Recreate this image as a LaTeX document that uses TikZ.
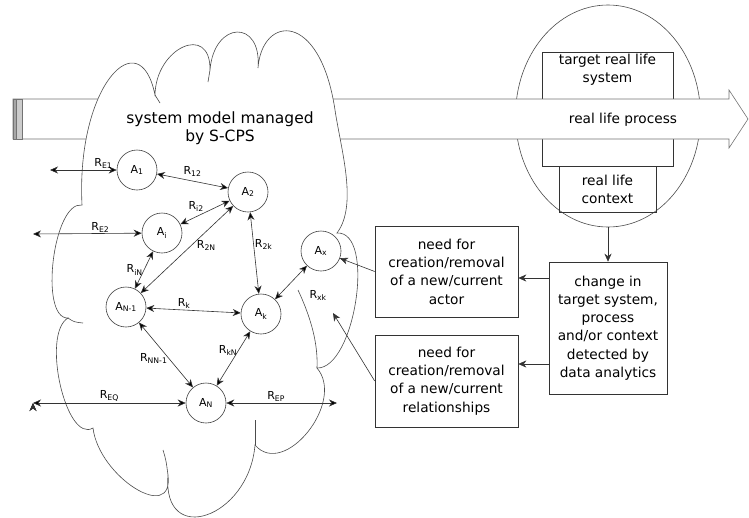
\documentclass[tikz,border=0pt]{standalone}
\usepackage{fontspec}
\setmainfont{DejaVu Sans}
\usetikzlibrary{arrows.meta,positioning,shapes.geometric}

\begin{document}
\begin{tikzpicture}[
    x=1pt, y=-1pt,
    >={Stealth[length=8pt,width=7pt,inset=2.5pt]},
    line width=0.6pt,
    actor/.style={circle, draw=black!75, minimum size=40pt, inner sep=0pt, font=\fontsize{11}{13}\selectfont},
    infobox/.style={draw=black!80, align=center, inner sep=2pt, font=\fontsize{13.7}{18.3}\selectfont},
    rel/.style={<->, draw=black!80},
    rlabel/.style={font=\fontsize{11}{13}\selectfont, inner sep=1pt},
    cloudline/.style={draw=black!70}
]
    \useasboundingbox (0,0) rectangle (749,517);

    % real world: system, process, context
    \node[ellipse, draw=black!70, minimum width=185pt, minimum height=222pt] (world) at (608,116) {};
    \node[draw=black!80, minimum width=131pt, minimum height=114pt] (sysbox) at (607.5,109) {};
    \node[infobox, draw=none, anchor=north] (systxt) at (sysbox.north) {target real life\\system};

    % process arrow
    \draw[draw=black!55, fill=white] (13,99) -- (729,99) -- (729,90) -- (748,119)
        -- (729,148) -- (729,139) -- (13,139) -- cycle;
    \draw[draw=black!55, fill=black!35] (13,99) rectangle (16,139);
    \draw[draw=black!55, fill=black!20] (16,99) rectangle (22,139);
    \node[infobox, draw=none] (process) at (623,120) {real life process};

    \node[infobox, minimum width=97pt, minimum height=46pt, below=0pt of sysbox] (ctxbox) {real life\\context};

    % cloud
    \draw[cloudline, fill=white] (82,205) .. controls (76,85) and (140,20) .. (155,95)
        .. controls (155.7,47.7) and (210.7,22.7) .. (210,70)
        .. controls (214,20.7) and (262,18.7) .. (258,68)
        .. controls (262,15) and (320,10) .. (335,110)
        .. controls (341,150) and (358,205) .. (337,233)
        .. controls (376,231) and (355,369) .. (317,368)
        .. controls (346,402) and (284,479) .. (255,445)
        .. controls (249,518) and (162,548) .. (168,475)
        .. controls (174,524) and (99,477) .. (93,428)
        .. controls (66,444) and (41,334) .. (68,318)
        .. controls (39,319) and (53,201) .. (82,205) -- cycle;
    \draw[cloudline] (298,290) .. controls (312,320) and (318,345) .. (317,368);
    \draw[cloudline] (68,318) .. controls (74,322) .. (83,323);
    \draw[cloudline] (163,450) .. controls (166,460) .. (168,475);
    \draw[cloudline] (255,420) -- (255,445);
    \draw[cloudline] (155,95) -- (160,103);
    \draw[cloudline] (210,70) -- (208,82);

    \node[font=\fontsize{15.5}{18}\selectfont, align=center] (title) at (220,128) {system model managed\\by S-CPS};

    % actors
    \node[actor] (a1)  at (137,170) {A\textsubscript{1}};
    \node[actor] (a2)  at (248,192) {A\textsubscript{2}};
    \node[actor] (ai)  at (162,233) {A\textsubscript{i}};
    \node[actor] (an1) at (126,307) {A\textsubscript{N-1}};
    \node[actor] (ak)  at (261,314) {A\textsubscript{k}};
    \node[actor] (ax)  at (321,251) {A\textsubscript{x}};
    \node[actor] (an)  at (206,403) {A\textsubscript{N}};

    \coordinate (e1)  at (50,170);
    \coordinate (e2)  at (33,234);
    \coordinate (eq)  at (33,403);
    \coordinate (ep)  at (337,403);
    \coordinate (ryx) at (333,313);

    % relationships
    \path[rel] (e1)  edge node[rlabel, above, pos=0.8] {R\textsubscript{E1}} (a1)
               (a1)  edge node[rlabel, above=3pt] {R\textsubscript{12}} (a2)
               (ai)  edge node[rlabel, above left] {R\textsubscript{i2}} (a2)
               (e2)  edge node[rlabel, above, pos=0.62] {R\textsubscript{E2}} (ai)
               (ai)  edge node[rlabel, left] {R\textsubscript{iN}} (an1)
               (an1) edge node[rlabel, right=4pt, pos=0.55] {R\textsubscript{2N}} (a2)
               (a2)  edge node[rlabel, right, pos=0.4] {R\textsubscript{2k}} (ak)
               (an1) edge node[rlabel, above, pos=0.4] {R\textsubscript{k}} (ak)
               (an1) edge node[rlabel, left, pos=0.55] {R\textsubscript{NN-1}} (an)
               (ak)  edge node[rlabel, left, pos=0.35] {R\textsubscript{kN}} (an)
               (ax)  edge node[rlabel, below right={18pt and 6pt}, pos=0.15] {R\textsubscript{xk}} (ak)
               (eq)  edge node[rlabel, above] {R\textsubscript{EQ}} (an)
               (an)  edge node[rlabel, above, pos=0.45] {R\textsubscript{EP}} (ep);

    % detection and needs
    \node[infobox, minimum width=118pt, minimum height=132pt] (change) at (608,328)
        {change in\\target system,\\process\\and/or context\\detected by\\data analytics};
    \node[infobox, minimum width=143pt, minimum height=91pt] (need1) at (446.5,271.5)
        {need for\\creation/removal\\of a new/current\\actor};
    \node[infobox, minimum width=143pt, minimum height=92pt] (need2) at (446.5,381)
        {need for\\creation/removal\\of a new/current\\relationships};

    \draw[->, draw=black!80] (world.south) -- (change.north);
    \draw[->, draw=black!80] ([yshift=50pt]change.west) coordinate (c1) -- (c1 -| need1.east);
    \draw[->, draw=black!80] ([yshift=-36pt]change.west) coordinate (c2) -- (c2 -| need2.east);
    \draw[->, draw=black!80] (need1.west) -- (ax);
    \draw[->, draw=black!80] (need2.west) -- (ryx);
\end{tikzpicture}
\end{document}
